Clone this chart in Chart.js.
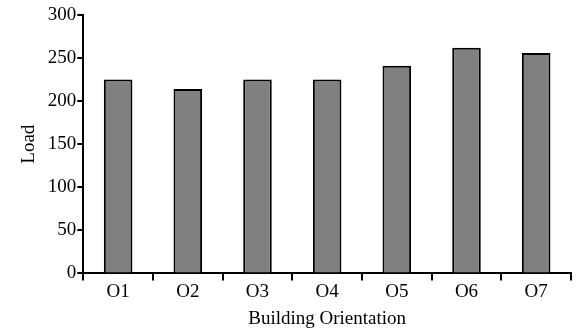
<!DOCTYPE html>
<html>
<head>
<meta charset="UTF-8">
<title>Load by Building Orientation</title>
<script src="https://cdn.jsdelivr.net/npm/chart.js@4.4.0/dist/chart.umd.min.js"></script>
<style>
  html, body { margin: 0; padding: 0; background: #fff; }
  #wrap { width: 584px; height: 335px; }
</style>
</head>
<body>
<div id="wrap"><canvas id="loadChart" width="584" height="335"></canvas></div>
<script>
const orientations = ['O1', 'O2', 'O3', 'O4', 'O5', 'O6', 'O7'];
const loads = [225, 214, 225, 225, 241, 262, 256];
const yTicks = [0, 50, 100, 150, 200, 250, 300];

const serif = 'Liberation Serif';

new Chart(document.getElementById('loadChart'), {
  type: 'bar',
  data: {
    labels: orientations,
    datasets: [{
      label: 'Load',
      data: loads,
      backgroundColor: '#808080',
      borderColor: '#000',
      borderWidth: 2,
      borderSkipped: 'bottom',
      categoryPercentage: 1,
      barPercentage: 0.41
    }]
  },
  options: {
    responsive: false,
    animation: false,
    layout: { padding: { top: 15, right: 13, left: 14, bottom: 1 } },
    plugins: { legend: { display: false }, tooltip: { enabled: false } },
    scales: {
      x: {
        grid: { drawOnChartArea: false, drawTicks: true, tickLength: 7, color: '#000', lineWidth: 2, offset: true },
        border: { display: true, color: '#000', width: 2 },
        ticks: { color: '#000', font: { family: serif, size: 19 }, padding: 0 },
        title: { display: true, text: 'Building Orientation', color: '#000', font: { family: serif, size: 19 }, padding: { top: 4 } }
      },
      y: {
        min: 0,
        max: 300,
        afterBuildTicks: axis => { axis.ticks = yTicks.map(v => ({ value: v })); },
        grid: { drawOnChartArea: false, drawTicks: true, tickLength: 6, color: '#000', lineWidth: 2 },
        border: { display: true, color: '#000', width: 2 },
        ticks: { color: '#000', font: { family: serif, size: 19 }, padding: 1 },
        title: { display: true, text: 'Load', color: '#000', font: { family: serif, size: 19 }, padding: { bottom: 6 } }
      }
    }
  }
});
</script>
</body>
</html>
